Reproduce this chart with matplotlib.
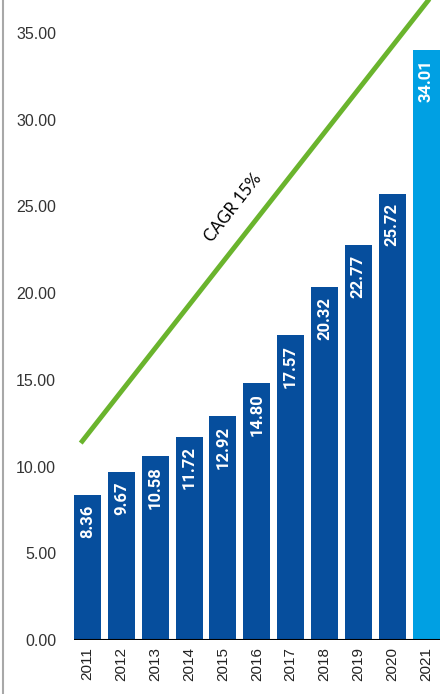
import numpy as np
import matplotlib.pyplot as plt
from matplotlib.lines import Line2D

years = ['2011', '2012', '2013', '2014', '2015', '2016', '2017', '2018', '2019', '2020', '2021']
values = [8.36, 9.67, 10.58, 11.72, 12.92, 14.80, 17.57, 20.32, 22.77, 25.72, 34.01]
y_ticks = [0, 5, 10, 15, 20, 25, 30, 35]

# trend line drawn over the bars (ends beyond the top, clipped)
cagr_x = [-0.2, 10.6]
cagr_y = [11.35, 38.2]

dark_blue = '#064E9D'
light_blue = '#00A0E3'
green = '#6AB42D'

fig = plt.figure(figsize=(4.44, 6.94), dpi=100)
ax = fig.add_axes([70 / 444, 54 / 694, 374 / 444, 640 / 694])

x = np.arange(len(years))
colors = [dark_blue] * (len(years) - 1) + [light_blue]
ax.bar(x, values, width=0.8, color=colors, zorder=2)

for xi, v in zip(x, values):
    ax.text(xi, v - 0.55, f'{v:.2f}', rotation=90, ha='center', va='top',
            color='white', fontsize=12, fontweight='bold', family='Roboto', zorder=3)

ax.hlines(0, -0.4, len(years) - 0.6, color='black', linewidth=1.5, zorder=3)

ax.plot(cagr_x, cagr_y, color=green, linewidth=3.5, solid_capstyle='butt', zorder=4)
ax.text(4.3, 24.9, 'CAGR 15%', rotation=52, ha='center', va='center',
        fontsize=12, family='Lato', color='black')

ax.set_xlim(-0.517, 10.53)
ax.set_ylim(0, 36.89)
ax.set_xticks(x)
ax.set_xticklabels(years, rotation=90, fontsize=11, family='Liberation Sans', color='#222222')
ax.set_yticks(y_ticks)
ax.set_yticklabels([f'{t:.2f}' for t in y_ticks], fontsize=11.5, family='Liberation Sans', color='#333333')
ax.tick_params(axis='x', length=0, pad=5)
ax.tick_params(axis='y', length=0, pad=10)
for s in ax.spines.values():
    s.set_visible(False)

fig.add_artist(Line2D([3 / 444, 3 / 444], [0, 1], color='#A8A8A8', linewidth=1.5))

fig.savefig('out.png', dpi=100)
